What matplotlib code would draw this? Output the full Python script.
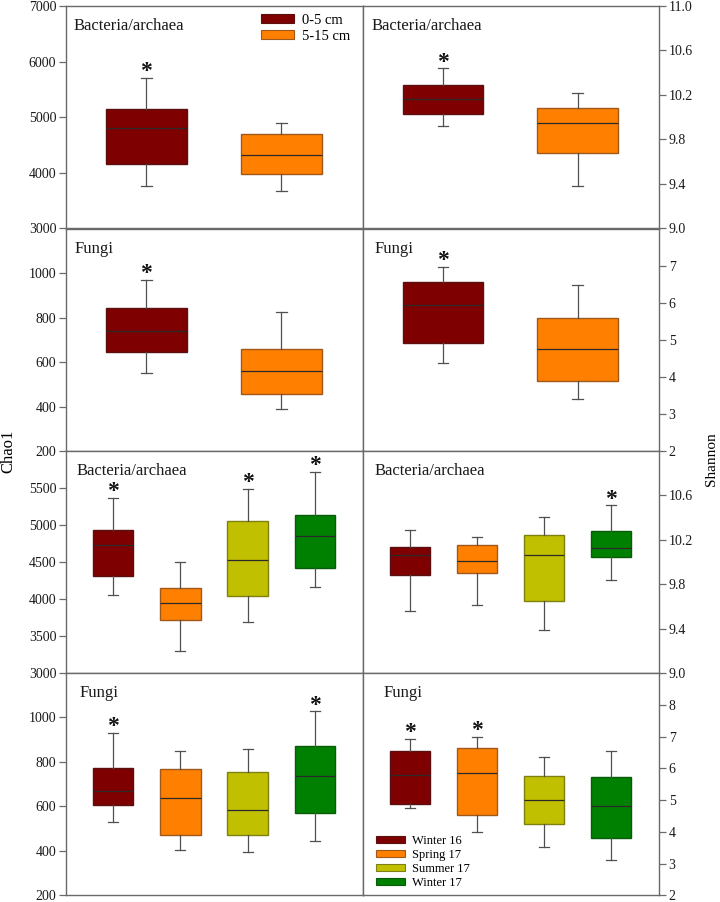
import matplotlib
matplotlib.use("Agg")
import matplotlib.pyplot as plt
from matplotlib.patches import Patch
import numpy as np

plt.rcParams['font.family'] = ['Liberation Serif', 'DejaVu Serif']

# ---------------- data (five-number summaries: low whisker, Q1, median, Q3, high whisker)
depth_labels = ['0-5 cm', '5-15 cm']
season_labels = ['Winter 16', 'Spring 17', 'Summer 17', 'Winter 17']

depth_colors = ['#7f0000', '#ff8000']
season_colors = ['#7f0000', '#ff8000', '#c0c000', '#008000']
depth_edges = ['#5a1010', '#a0581a']
season_edges = ['#5a1010', '#a0581a', '#808010', '#0a5a0a']

chao1_bact_depth = [[3770, 4160, 4800, 5150, 5710],
                    [3670, 3970, 4320, 4700, 4900]]
shannon_bact_depth = [[9.92, 10.03, 10.16, 10.29, 10.44],
                      [9.38, 9.68, 9.95, 10.08, 10.22]]
chao1_fungi_depth = [[550, 645, 740, 845, 970],
                     [390, 456, 560, 660, 828]]
shannon_fungi_depth = [[4.39, 4.93, 5.95, 6.57, 6.98],
                       [3.41, 3.90, 4.75, 5.60, 6.50]]

chao1_bact_season = [[4060, 4310, 4735, 4930, 5370],
                     [3300, 3725, 3950, 4155, 4505],
                     [3690, 4045, 4535, 5060, 5490],
                     [4160, 4415, 4855, 5140, 5715]]
shannon_bact_season = [[9.56, 9.88, 10.06, 10.14, 10.29],
                       [9.61, 9.90, 10.01, 10.15, 10.23],
                       [9.39, 9.65, 10.06, 10.24, 10.41],
                       [9.84, 10.05, 10.13, 10.28, 10.51]]
chao1_fungi_season = [[528, 607, 668, 772, 932],
                      [406, 470, 637, 770, 848],
                      [395, 470, 583, 754, 859],
                      [443, 568, 736, 871, 1028]]
shannon_fungi_season = [[4.75, 4.86, 5.78, 6.54, 6.93],
                        [4.00, 4.54, 5.84, 6.63, 7.00],
                        [3.51, 4.25, 4.99, 5.75, 6.36],
                        [3.10, 3.81, 4.80, 5.73, 6.53]]

# significance flags (asterisks)
sig_chao1_bact_depth = [True, False]
sig_shannon_bact_depth = [True, False]
sig_chao1_fungi_depth = [True, False]
sig_shannon_fungi_depth = [True, False]
sig_chao1_bact_season = [True, False, True, True]
sig_shannon_bact_season = [False, False, False, True]
sig_chao1_fungi_season = [True, False, False, True]
sig_shannon_fungi_season = [True, True, False, False]

# y-axis ranges and tick labels
ylim_chao1_bact_depth = (3000, 7000)
yticks_chao1_bact_depth = ['3000', '4000', '5000', '6000', '7000']
ylim_shannon_bact_depth = (9.0, 11.0)
yticks_shannon_bact_depth = ['9.0', '9.4', '9.8', '10.2', '10.6', '11.0']
ylim_chao1_fungi_depth = (200, 1200)
yticks_chao1_fungi_depth = ['200', '400', '600', '800', '1000']
ylim_shannon_fungi_depth = (2, 8)
yticks_shannon_fungi_depth = ['2', '3', '4', '5', '6', '7']
ylim_chao1_bact_season = (3000, 6000)
yticks_chao1_bact_season = ['3000', '3500', '4000', '4500', '5000', '5500']
ylim_shannon_bact_season = (9.0, 11.0)
yticks_shannon_bact_season = ['9.0', '9.4', '9.8', '10.2', '10.6']
ylim_chao1_fungi_season = (200, 1200)
yticks_chao1_fungi_season = ['200', '400', '600', '800', '1000']
ylim_shannon_fungi_season = (2, 9)
yticks_shannon_fungi_season = ['2', '3', '4', '5', '6', '7', '8']

# ---------------- layout
W, H = 720, 902
fig = plt.figure(figsize=(W / 100, H / 100), dpi=100)

col_x = [66, 363]
col_w = [297, 296]
row_top = [6, 229, 451, 673]
row_h = 222.3

frame_col = '#6a6a6a'

panels = [
    (0, 0, chao1_bact_depth, sig_chao1_bact_depth, ylim_chao1_bact_depth, yticks_chao1_bact_depth, 'Bacteria/archaea', 'depth', 0.024),
    (0, 1, shannon_bact_depth, sig_shannon_bact_depth, ylim_shannon_bact_depth, yticks_shannon_bact_depth, 'Bacteria/archaea', 'depth', 0.03),
    (1, 0, chao1_fungi_depth, sig_chao1_fungi_depth, ylim_chao1_fungi_depth, yticks_chao1_fungi_depth, 'Fungi', 'depth', 0.027),
    (1, 1, shannon_fungi_depth, sig_shannon_fungi_depth, ylim_shannon_fungi_depth, yticks_shannon_fungi_depth, 'Fungi', 'depth', 0.04),
    (2, 0, chao1_bact_season, sig_chao1_bact_season, ylim_chao1_bact_season, yticks_chao1_bact_season, 'Bacteria/archaea', 'season', 0.037),
    (2, 1, shannon_bact_season, sig_shannon_bact_season, ylim_shannon_bact_season, yticks_shannon_bact_season, 'Bacteria/archaea', 'season', 0.04),
    (3, 0, chao1_fungi_season, sig_chao1_fungi_season, ylim_chao1_fungi_season, yticks_chao1_fungi_season, 'Fungi', 'season', 0.047),
    (3, 1, shannon_fungi_season, sig_shannon_fungi_season, ylim_shannon_fungi_season, yticks_shannon_fungi_season, 'Fungi', 'season', 0.068),
]

axes = {}
for row, col, data, sig, ylim, ticks, title, kind, lx in panels:
    left = col_x[col] / W
    bottom = 1 - (row_top[row] + row_h) / H
    ax = fig.add_axes([left, bottom, col_w[col] / W, row_h / H])
    axes[(row, col)] = ax
    n = len(data)
    positions = np.arange(1, n + 1)
    if kind == 'depth':
        colors, edges = depth_colors, depth_edges
        xlim = (0.405, 2.605)
        capw = 0.08
    else:
        colors, edges = season_colors, season_edges
        xlim = (0.305, 4.71)
        capw = 0.15
    stats = [dict(whislo=d[0], q1=d[1], med=d[2], q3=d[3], whishi=d[4], fliers=[])
             for d in data]
    bp = ax.bxp(stats, positions=positions, widths=0.6, patch_artist=True,
                showfliers=False, capwidths=capw,
                medianprops=dict(color='#2a2a2a', linewidth=0.9),
                whiskerprops=dict(color='#505050', linewidth=0.9),
                capprops=dict(color='#505050', linewidth=0.9),
                boxprops=dict(linewidth=1.0))
    for patch, fc, ec in zip(bp['boxes'], colors, edges):
        patch.set_facecolor(fc)
        patch.set_edgecolor(ec)
    for p, d, s in zip(positions, data, sig):
        if s:
            ax.annotate('*', xy=(p, d[4]), xytext=(0, 0.5), textcoords='offset points',
                        ha='center', va='baseline', fontsize=17, fontweight='bold',
                        color='#111111')
    ax.set_xlim(*xlim)
    ax.set_ylim(*ylim)
    ax.set_xticks([])
    ax.set_yticks([float(t) for t in ticks])
    ax.set_yticklabels(ticks)
    for sp in ax.spines.values():
        sp.set_color(frame_col)
        sp.set_linewidth(1.0)
    ax.tick_params(axis='y', direction='out', length=5, width=0.9, color=frame_col,
                   labelsize=10, pad=2, labelcolor='#1a1a1a')
    if col == 1:
        ax.yaxis.tick_right()
        ax.tick_params(axis='y', left=False, labelleft=False, right=True, labelright=True)
    ax.text(lx, 0.908, title, transform=ax.transAxes, ha='left', va='center',
            fontsize=12, color='#1a1a1a')

# legends
ax0 = axes[(0, 0)]
h_depth = [Patch(facecolor=c, edgecolor=e, linewidth=0.8) for c, e in zip(depth_colors, depth_edges)]
ax0.legend(h_depth, depth_labels, loc='upper left', bbox_to_anchor=(0.655, 0.965),
           frameon=False, fontsize=10.5, handlelength=2.3, handleheight=0.5,
           handletextpad=0.55, labelspacing=0.2, borderpad=0, borderaxespad=0)

ax7 = axes[(3, 1)]
h_season = [Patch(facecolor=c, edgecolor=e, linewidth=0.8) for c, e in zip(season_colors, season_edges)]
ax7.legend(h_season, season_labels, loc='lower left', bbox_to_anchor=(0.045, 0.03),
           frameon=False, fontsize=9, handlelength=2.3, handleheight=0.5,
           handletextpad=0.55, labelspacing=0.15, borderpad=0, borderaxespad=0)

fig.text(8 / W, 1 - 451 / H, 'Chao1', rotation=90, ha='center', va='center', fontsize=12)
fig.text(712 / W, 1 - 459 / H, 'Shannon', rotation=90, ha='center', va='center', fontsize=11)

fig.savefig('out.png', dpi=100)
